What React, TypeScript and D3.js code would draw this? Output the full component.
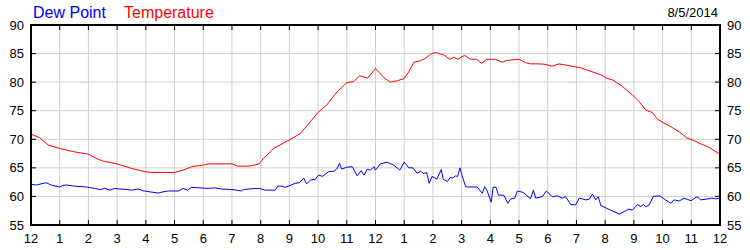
import React from "react";
import * as d3 from "d3";

const hourLabels = ["12","1","2","3","4","5","6","7","8","9","10","11","12","1","2","3","4","5","6","7","8","9","10","11","12"];
const yTicks = [55, 60, 65, 70, 75, 80, 85, 90];
const dateLabel = "8/5/2014";
const legendDew = "Dew Point";
const legendTemp = "Temperature";

const temperature: [number, number][] = [
  [0, 70.9], [0.3, 70.3], [0.59, 69.0], [1.0, 68.4], [1.5, 67.8], [2.0, 67.4], [2.25, 66.7], [2.5, 66.2],
  [3.0, 65.7], [3.5, 64.9], [4.0, 64.3], [4.2, 64.2], [5.0, 64.2], [5.3, 64.6], [5.6, 65.2], [6.0, 65.5],
  [6.2, 65.7], [7.0, 65.7], [7.2, 65.3], [7.6, 65.3], [7.95, 65.7], [8.1, 66.7], [8.3, 67.6], [8.45, 68.4],
  [9.0, 69.9], [9.38, 71.0], [10.0, 74.7], [10.3, 76.0], [10.66, 78.3], [11.0, 79.9], [11.24, 80.1],
  [11.45, 81.1], [11.73, 80.7], [12.0, 82.4], [12.29, 80.8], [12.52, 80.0], [12.76, 80.25], [12.99, 80.6],
  [13.16, 81.8], [13.34, 83.5], [13.57, 83.75], [13.75, 84.2], [13.92, 84.9], [14.09, 85.2], [14.27, 84.9],
  [14.38, 84.75], [14.59, 84.0], [14.73, 84.35], [14.87, 84.0], [15.1, 84.7], [15.31, 84.0], [15.52, 84.0],
  [15.69, 83.3], [15.87, 84.0], [16.18, 84.0], [16.42, 83.5], [16.57, 83.8], [17.0, 84.0], [17.23, 83.4],
  [17.4, 83.2], [17.66, 83.2], [17.87, 83.15], [18.16, 82.8], [18.39, 83.2], [18.63, 83.0], [18.92, 82.7],
  [19.15, 82.5], [19.38, 82.1], [19.61, 81.7], [19.85, 81.3], [20.04, 80.7], [20.25, 80.4], [20.54, 79.5],
  [20.95, 77.75], [21.13, 76.9], [21.42, 75.1], [21.65, 74.65], [21.83, 73.5], [22.03, 72.9], [22.29, 72.2],
  [22.58, 71.3], [22.85, 70.2], [23.04, 69.9], [23.33, 69.2], [23.62, 68.6], [23.86, 67.8], [24, 67.4],
];

const dewPoint: [number, number][] = [
  [0, 62.1], [0.2, 62.0], [0.35, 62.2], [0.53, 62.4], [0.7, 62.0], [1.0, 61.65], [1.1, 61.9], [1.23, 62.0],
  [1.52, 61.8], [1.93, 61.65], [2.22, 61.4], [2.4, 61.2], [2.57, 61.4], [2.75, 61.1], [2.92, 61.4], [3.1, 61.3],
  [3.27, 61.25], [3.5, 61.1], [3.73, 61.3], [3.9, 61.0], [4.14, 60.8], [4.43, 60.6], [4.6, 60.8], [4.78, 60.95],
  [5.13, 60.95], [5.3, 61.4], [5.45, 61.1], [5.59, 61.6], [6.17, 61.4], [6.4, 61.5], [6.64, 61.3], [7.0, 61.2],
  [7.15, 61.1], [7.33, 60.95], [7.4, 61.2], [7.8, 61.4], [7.96, 61.4], [8.16, 61.1], [8.5, 61.1], [8.6, 61.8],
  [8.75, 61.8], [8.85, 61.6], [8.97, 61.8], [9.2, 62.3], [9.35, 62.4], [9.5, 63.2], [9.6, 62.2], [9.75, 62.9],
  [9.9, 63.0], [10.02, 63.75], [10.15, 63.5], [10.37, 64.35], [10.55, 64.4], [10.65, 64.8], [10.75, 65.8],
  [10.82, 64.8], [11.0, 65.1], [11.19, 65.2], [11.36, 63.6], [11.5, 64.5], [11.6, 63.75], [11.71, 64.75],
  [11.82, 64.6], [11.9, 65.0], [11.95, 65.2], [12.0, 64.6], [12.17, 65.7], [12.4, 66.0], [12.63, 65.5],
  [12.85, 64.6], [13.0, 66.0], [13.16, 65.0], [13.3, 65.0], [13.45, 64.05], [13.57, 64.4], [13.68, 64.0],
  [13.78, 64.2], [13.87, 62.3], [13.97, 63.5], [14.14, 63.05], [14.29, 64.7], [14.36, 63.0], [14.5, 62.6],
  [14.6, 63.3], [14.7, 63.2], [14.78, 63.6], [14.86, 63.5], [14.94, 65.0], [15.02, 63.6], [15.14, 61.7],
  [15.25, 61.65], [15.54, 61.65], [15.72, 60.55], [15.8, 61.7], [15.88, 61.1], [16.03, 59.0], [16.1, 61.65],
  [16.2, 61.6], [16.28, 60.25], [16.47, 60.2], [16.61, 58.8], [16.7, 59.55], [16.85, 59.7], [16.94, 60.95],
  [17.15, 60.7], [17.4, 59.6], [17.5, 61.1], [17.58, 59.7], [17.81, 59.95], [17.95, 60.95], [18.16, 59.95],
  [18.33, 60.1], [18.51, 59.7], [18.62, 59.95], [18.8, 58.6], [18.97, 58.5], [19.1, 59.7], [19.32, 59.4],
  [19.44, 59.5], [19.56, 60.4], [19.67, 59.4], [19.76, 59.95], [19.85, 58.4], [20.49, 56.9], [20.66, 57.35],
  [20.83, 57.8], [20.95, 57.6], [21.13, 58.6], [21.24, 58.2], [21.33, 58.6], [21.41, 58.2], [21.53, 58.5],
  [21.68, 60.0], [21.91, 60.1], [22.1, 59.4], [22.29, 58.8], [22.4, 59.4], [22.58, 59.2], [22.75, 59.7],
  [22.99, 59.25], [23.2, 59.95], [23.33, 59.4], [23.57, 59.55], [23.7, 59.7], [23.85, 59.6], [24, 59.65],
];

const W = 750, H = 250;
const left = 31, right = 720, top = 25, bottom = 225;
const FONT = "'Liberation Sans', Arial, sans-serif";

export default function App() {
  const x = d3.scaleLinear().domain([0, 24]).range([left, right]);
  const y = d3.scaleLinear().domain([55, 90]).range([bottom, top]);
  const line = d3.line<[number, number]>().x(d => x(d[0])).y(d => y(d[1]));
  const hours = d3.range(0, 25);

  return (
    <svg width={W} height={H} style={{ position: "absolute", left: 0, top: 0, background: "#fff" }}>
      <rect x={0} y={0} width={W} height={H} fill="#fff" />
      {/* grid */}
      {hours.slice(1, -1).map(h => (
        <line key={"gx" + h} x1={x(h)} x2={x(h)} y1={top} y2={bottom} stroke="#cfcfcf" strokeWidth={1} />
      ))}
      {yTicks.slice(1, -1).map(v => (
        <line key={"gy" + v} x1={left} x2={right} y1={y(v)} y2={y(v)} stroke="#cfcfcf" strokeWidth={1} />
      ))}
      {/* ticks */}
      {hours.map(h => (
        <g key={"tx" + h}>
          <line x1={x(h)} x2={x(h)} y1={top} y2={top + 5} stroke="#000" strokeWidth={1} />
          <line x1={x(h)} x2={x(h)} y1={bottom} y2={bottom - 5} stroke="#000" strokeWidth={1} />
        </g>
      ))}
      {yTicks.map(v => (
        <g key={"ty" + v}>
          <line x1={left} x2={left + 5} y1={y(v)} y2={y(v)} stroke="#000" strokeWidth={1} />
          <line x1={right} x2={right - 5} y1={y(v)} y2={y(v)} stroke="#000" strokeWidth={1} />
        </g>
      ))}
      {/* series */}
      <path d={line(dewPoint) || ""} fill="none" stroke="#0000ff" strokeWidth={1} />
      <path d={line(temperature) || ""} fill="none" stroke="#ff0000" strokeWidth={1} />
      {/* frame */}
      <rect x={left} y={top} width={right - left} height={bottom - top} fill="none" stroke="#000" strokeWidth={2} />
      {/* y labels */}
      {yTicks.map(v => (
        <g key={"ly" + v} fontFamily={FONT} fontSize={13} fill="#000">
          <text x={24} y={y(v) + 4.5} textAnchor="end">{v}</text>
          <text x={727} y={y(v) + 4.5} textAnchor="start">{v}</text>
        </g>
      ))}
      {/* x labels */}
      {hourLabels.map((lab, i) => (
        <text key={"lx" + i} x={x(i)} y={243} textAnchor="middle" fontFamily={FONT} fontSize={13} fill="#000">{lab}</text>
      ))}
      {/* legend */}
      <text x={33} y={17.5} fontFamily={FONT} fontSize={16} fill="#0000ff">{legendDew}</text>
      <text x={124} y={17.5} fontFamily={FONT} fontSize={16} fill="#ff0000">{legendTemp}</text>
      <text x={718} y={17} textAnchor="end" fontFamily={FONT} fontSize={13} fill="#000">{dateLabel}</text>
    </svg>
  );
}
